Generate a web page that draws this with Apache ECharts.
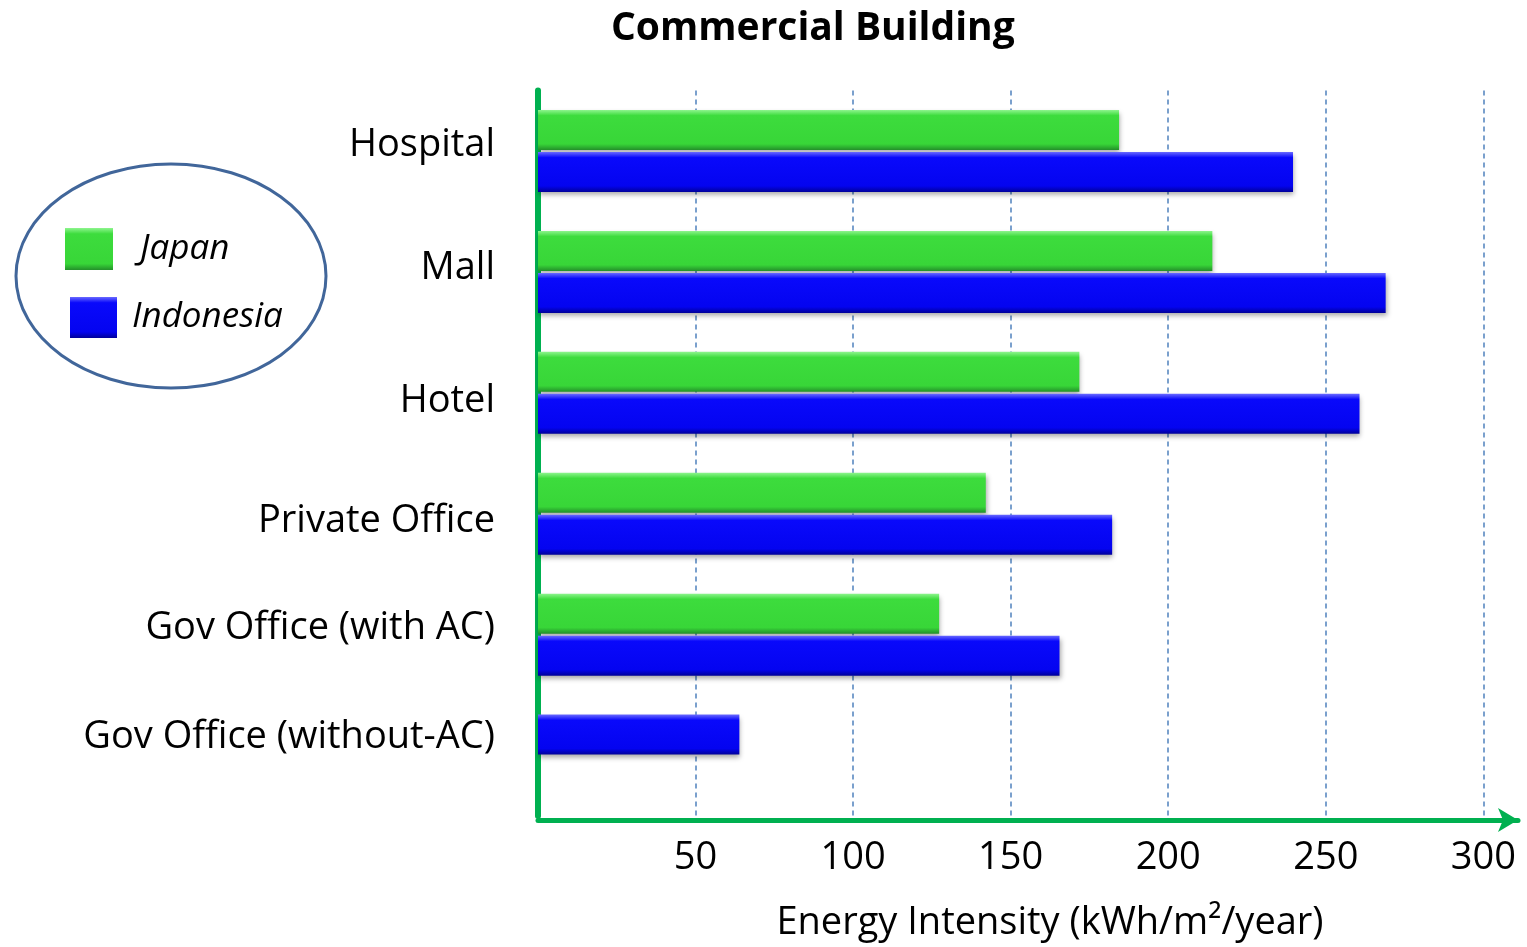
<!DOCTYPE html>
<html>
<head>
<meta charset="utf-8">
<script src="https://cdn.jsdelivr.net/npm/echarts@6/dist/echarts.min.js"></script>
<style>
html,body{margin:0;padding:0;background:#fff;}
#chart{width:1527px;height:947px;}
</style>
</head>
<body>
<div id="chart"></div>
<script>
// ---- data ----
const categories = ['Hospital', 'Mall', 'Hotel', 'Private Office', 'Gov Office (with AC)', 'Gov Office (without-AC)'];
const japan = [184.4, 214.0, 171.8, 142.1, 127.3, null];
const indonesia = [239.6, 269.0, 260.7, 182.2, 165.5, 63.9];
const seriesNames = ['Japan', 'Indonesia'];
const titleText = 'Commercial Building';
const xAxisName = 'Energy Intensity (kWh/m\u00B2/year)';
const tickStep = 50;

// ---- styles ----
const FONT = 'Open Sans';
const LABEL_SIZE = 38;
const greenFill = new echarts.graphic.LinearGradient(0, 0, 0, 1, [
  {offset: 0, color: '#8ef58e'},
  {offset: 0.14, color: '#3ddc3d'},
  {offset: 0.85, color: '#38d638'},
  {offset: 1, color: '#23902a'}
]);
const blueFill = new echarts.graphic.LinearGradient(0, 0, 0, 1, [
  {offset: 0, color: '#6a6aff'},
  {offset: 0.14, color: '#0909fb'},
  {offset: 0.85, color: '#0404f0'},
  {offset: 1, color: '#00009a'}
]);
const shadow = {shadowColor: 'rgba(0,0,0,0.35)', shadowBlur: 5, shadowOffsetY: 3, shadowOffsetX: 1};
const greenStyle = Object.assign({color: greenFill}, shadow);
const blueStyle = Object.assign({color: blueFill}, shadow);

// label vertical nudges (layout only)
const labelShift = [-6, -4, 8, 7, -6, -18];
const rich = {};
labelShift.forEach((s, i) => {
  rich['u' + i] = {
    fontSize: LABEL_SIZE, fontFamily: FONT, color: '#000',
    padding: s < 0 ? [0, 0, -2 * s, 0] : [2 * s, 0, 0, 0]
  };
});

// where Japan has no value, the Indonesia bar occupies the upper slot (as in the original)
const japanData = categories.map((c, i) => japan[i] == null
  ? {value: indonesia[i], itemStyle: blueStyle} : japan[i]);
const indonesiaData = categories.map((c, i) => japan[i] == null ? null : indonesia[i]);

const chart = echarts.init(document.getElementById('chart'));
chart.setOption({
  animation: false,
  backgroundColor: '#fff',
  title: {
    text: titleText,
    left: 606, top: 4,
    textStyle: {fontFamily: FONT, fontSize: 39, fontWeight: 'bold', color: '#000'}
  },
  legend: [
    {
      data: [seriesNames[0]], orient: 'vertical', left: 60, top: 223,
      itemWidth: 48, itemHeight: 42, icon: 'rect',
      textStyle: {fontFamily: FONT, fontSize: 35, fontStyle: 'italic', color: '#000', padding: [0, 0, 0, 22]}
    },
    {
      data: [seriesNames[1]], orient: 'vertical', left: 65, top: 292,
      itemWidth: 47, itemHeight: 41, icon: 'rect',
      textStyle: {fontFamily: FONT, fontSize: 35, fontStyle: 'italic', color: '#000', padding: [0, 0, 0, 10]}
    }
  ],
  graphic: [{
    type: 'ellipse',
    shape: {cx: 171, cy: 276, rx: 155, ry: 112},
    style: {fill: 'none', stroke: '#41669a', lineWidth: 3},
    z: -1
  }],
  grid: {left: 538, top: 90.5, width: 980, height: 727, containLabel: false},
  xAxis: {
    type: 'value', min: 0, max: 311, interval: tickStep, offset: 4,
    name: xAxisName, nameLocation: 'middle', nameGap: 84,
    nameTextStyle: {fontFamily: FONT, fontSize: LABEL_SIZE, color: '#000', padding: [0, 0, 0, 44]},
    axisLine: {show: true, lineStyle: {color: '#00b050', width: 5}, symbol: ['none', 'arrow'], symbolSize: [18, 20]},
    axisTick: {show: false},
    axisLabel: {
      fontFamily: FONT, fontSize: LABEL_SIZE, color: '#000', margin: 19,
      showMinLabel: false, showMaxLabel: false,
      formatter: v => (v > 0 && v % tickStep === 0) ? String(v) : ''
    },
    splitLine: {show: true, showMinLine: false, showMaxLine: false,
      lineStyle: {color: '#4f81bd', type: [5, 4], width: 1.5}}
  },
  yAxis: {
    type: 'category', data: categories, inverse: true,
    axisLine: {show: true, lineStyle: {color: '#00b050', width: 6}},
    axisTick: {show: false},
    axisLabel: {
      margin: 43, fontFamily: FONT, fontSize: LABEL_SIZE, color: '#000',
      formatter: (v, i) => '{u' + i + '|' + v + '}',
      rich: rich
    },
    splitLine: {show: false}
  },
  series: [
    {name: seriesNames[0], type: 'bar', data: japanData, barWidth: 40, barGap: '5%', itemStyle: greenStyle},
    {name: seriesNames[1], type: 'bar', data: indonesiaData, barWidth: 40, barGap: '5%', itemStyle: blueStyle}
  ]
});
</script>
</body>
</html>
